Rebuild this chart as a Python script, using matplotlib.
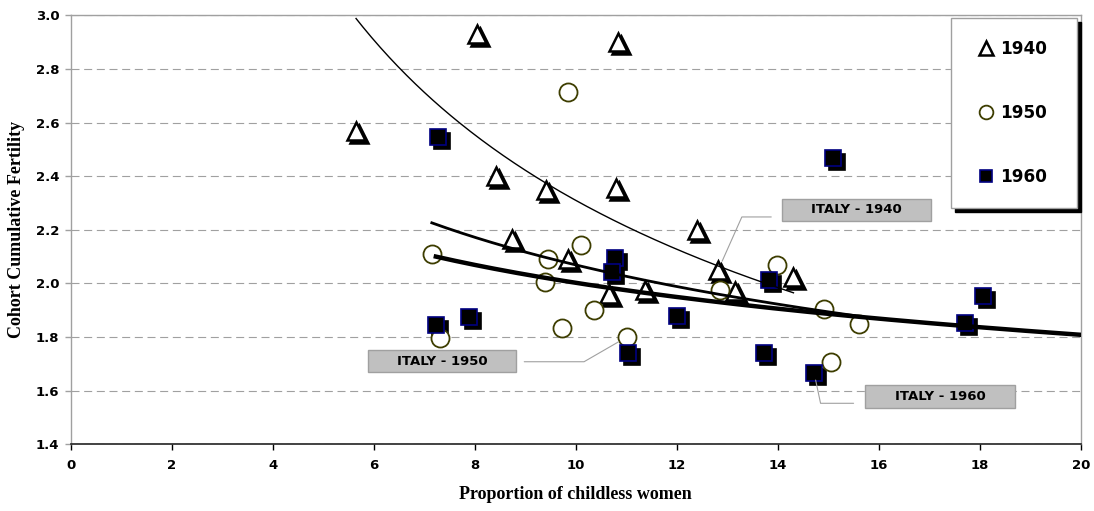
import matplotlib
matplotlib.use("Agg")
import matplotlib.pyplot as plt
import matplotlib.transforms as mtransforms
from matplotlib.patches import Rectangle
import numpy as np

# データ
x_1940 = [5.65, 8.04, 10.83, 8.43, 9.41, 10.79, 12.40, 8.73, 9.85, 10.65, 11.37, 12.82, 13.15, 14.31]
y_1940 = [2.57, 2.93, 2.90, 2.40, 2.35, 2.355, 2.20, 2.165, 2.09, 1.96, 1.975, 2.05, 1.97, 2.025]

x_1950 = [7.15, 9.84, 10.10, 9.46, 9.39, 7.31, 9.72, 10.37, 11.01, 12.86, 13.98, 14.92, 15.61, 15.05]
y_1950 = [2.11, 2.715, 2.143, 2.09, 2.006, 1.795, 1.833, 1.901, 1.80, 1.975, 2.069, 1.903, 1.849, 1.706]

x_1960 = [7.28, 15.09, 7.23, 7.89, 10.78, 10.71, 12.00, 11.04, 13.73, 13.83, 14.72, 17.71, 18.06]
y_1960 = [2.545, 2.467, 1.845, 1.876, 2.094, 2.044, 1.878, 1.739, 1.741, 2.013, 1.665, 1.851, 1.953]

# Italy の点（各系列のインデックス）
italy_idx = {"1940": 11, "1950": 8, "1960": 10}

# トレンドライン（べき乗近似 y = a * x^b）
fit_1940 = (6.525, -0.451)
fit_1950 = (3.418, -0.218)
fit_1960 = (2.809, -0.147)
fit_1960_xmax = 20

x_ticks = np.arange(0, 21, 2)
y_ticks = np.round(np.arange(1.4, 3.01, 0.2), 1)

SANS = "DejaVu Sans"
SERIF = "Liberation Serif"
GRAY = "#a0a0a0"

fig = plt.figure(figsize=(10.94, 5.11), dpi=100)
ax = fig.add_axes([0.0646, 0.1305, 0.9234, 0.8395])

shadow3 = mtransforms.offset_copy(ax.transData, fig=fig, x=3, y=-3, units="dots")
shadow4 = mtransforms.offset_copy(ax.transData, fig=fig, x=4, y=-4, units="dots")

# --- 1940: 三角 + 影
ax.plot(x_1940, y_1940, ls="none", marker="^", ms=13.5, mfc="black", mec="black",
        mew=1.8, transform=shadow3, zorder=3)
ax.plot(x_1940, y_1940, ls="none", marker="^", ms=13.5, mfc="white", mec="black",
        mew=1.8, zorder=4, label="1940")

# --- 1950: 丸（影なし）
ax.plot(x_1950, y_1950, ls="none", marker="o", ms=13, mfc="white", mec="#3d3d00",
        mew=1.3, zorder=4, label="1950")

# --- 1960: 四角 + 影
ax.plot(x_1960, y_1960, ls="none", marker="s", ms=11.5, mfc="black", mec="black",
        mew=1.2, transform=shadow4, zorder=3)
ax.plot(x_1960, y_1960, ls="none", marker="s", ms=11.5, mfc="black", mec="#000080",
        mew=1.2, zorder=4, label="1960")

# トレンドライン
xx = np.linspace(min(x_1940), max(x_1940), 200)
ax.plot(xx, fit_1940[0] * xx ** fit_1940[1], color="black", lw=1.0, zorder=5)
xx = np.linspace(min(x_1950), max(x_1950), 200)
ax.plot(xx, fit_1950[0] * xx ** fit_1950[1], color="black", lw=2.0, zorder=5)
xx = np.linspace(min(x_1960), fit_1960_xmax, 200)
ax.plot(xx, fit_1960[0] * xx ** fit_1960[1], color="black", lw=3.2, zorder=5)

# ITALY ラベル
labels = [
    # text, 系列, box(x0, x1, y0, y1), 引出し線の始点, angleB, shrinkB
    ("ITALY - 1940", (x_1940, y_1940, "1940"), (14.09, 17.04, 2.233, 2.315), (13.87, 2.248), 66, 7),
    ("ITALY - 1950", (x_1950, y_1950, "1950"), (5.88, 8.82, 1.668, 1.752), (8.98, 1.708), 30, 7),
    ("ITALY - 1960", (x_1960, y_1960, "1960"), (15.73, 18.69, 1.536, 1.621), (15.50, 1.553), 102, 5),
]
for text, (xs, ys, key), (bx0, bx1, by0, by1), start, angB, shB in labels:
    i = italy_idx[key]
    ax.add_patch(Rectangle((bx0, by0), bx1 - bx0, by1 - by0, facecolor="#c0c0c0",
                           edgecolor=GRAY, lw=1.0, zorder=6))
    ax.text((bx0 + bx1) / 2, (by0 + by1) / 2, text, ha="center", va="center",
            fontsize=9.5, fontweight="bold", family=SANS, zorder=7)
    ax.annotate("", xy=(xs[i], ys[i]), xytext=start, textcoords="data",
                arrowprops=dict(arrowstyle="-", color=GRAY, lw=0.8, shrinkA=0, shrinkB=shB,
                                connectionstyle=f"angle,angleA=0,angleB={angB},rad=0"),
                zorder=6)

# 軸
ax.set_xlim(0, 20)
ax.set_ylim(1.4, 3.0)
ax.set_xticks(x_ticks)
ax.set_yticks(y_ticks)
ax.set_yticklabels([f"{v:.1f}" for v in y_ticks])
for lab in ax.get_xticklabels() + ax.get_yticklabels():
    lab.set_fontweight("bold")
    lab.set_family(SANS)
    lab.set_fontsize(9.5)
ax.tick_params(axis="x", direction="out", length=4.3, width=1, color="black", pad=6.3)
ax.tick_params(axis="y", direction="out", length=4.3, width=1, color=GRAY, pad=3.9)

for side in ["left", "top", "right"]:
    ax.spines[side].set_color(GRAY)
    ax.spines[side].set_linewidth(1.0)
ax.spines["bottom"].set_color("#222222")
ax.spines["bottom"].set_linewidth(1.2)

ax.yaxis.grid(True, color=GRAY, lw=0.8, linestyle=(0, (7.2, 4.2)))
ax.set_axisbelow(True)

ax.set_xlabel("Proportion of childless women", family=SERIF, fontweight="bold", fontsize=13)
ax.set_ylabel("Cohort Cumulative Fertility", family=SERIF, fontweight="bold", fontsize=13)
ax.xaxis.set_label_coords(0.5, -0.097)
ax.yaxis.set_label_coords(-0.045, 0.5)

# 凡例（黒い影つき）
leg = ax.legend(loc="upper left", bbox_to_anchor=(951 / 1094, 1 - 18 / 511, 126 / 1094, 0),
                bbox_transform=fig.transFigure, mode="expand", borderaxespad=0,
                borderpad=1.3, labelspacing=2.7, handlelength=1.5, handletextpad=0.1,
                numpoints=1, markerscale=0.76, fancybox=False, framealpha=1,
                edgecolor=GRAY, prop={"family": SANS, "weight": "bold", "size": 12.2},
                shadow={"ox": 3, "oy": -3, "facecolor": "black", "edgecolor": "black", "alpha": 1})
leg.get_frame().set_linewidth(1.0)
leg.set_zorder(10)

fig.savefig("out.png", dpi=100)
